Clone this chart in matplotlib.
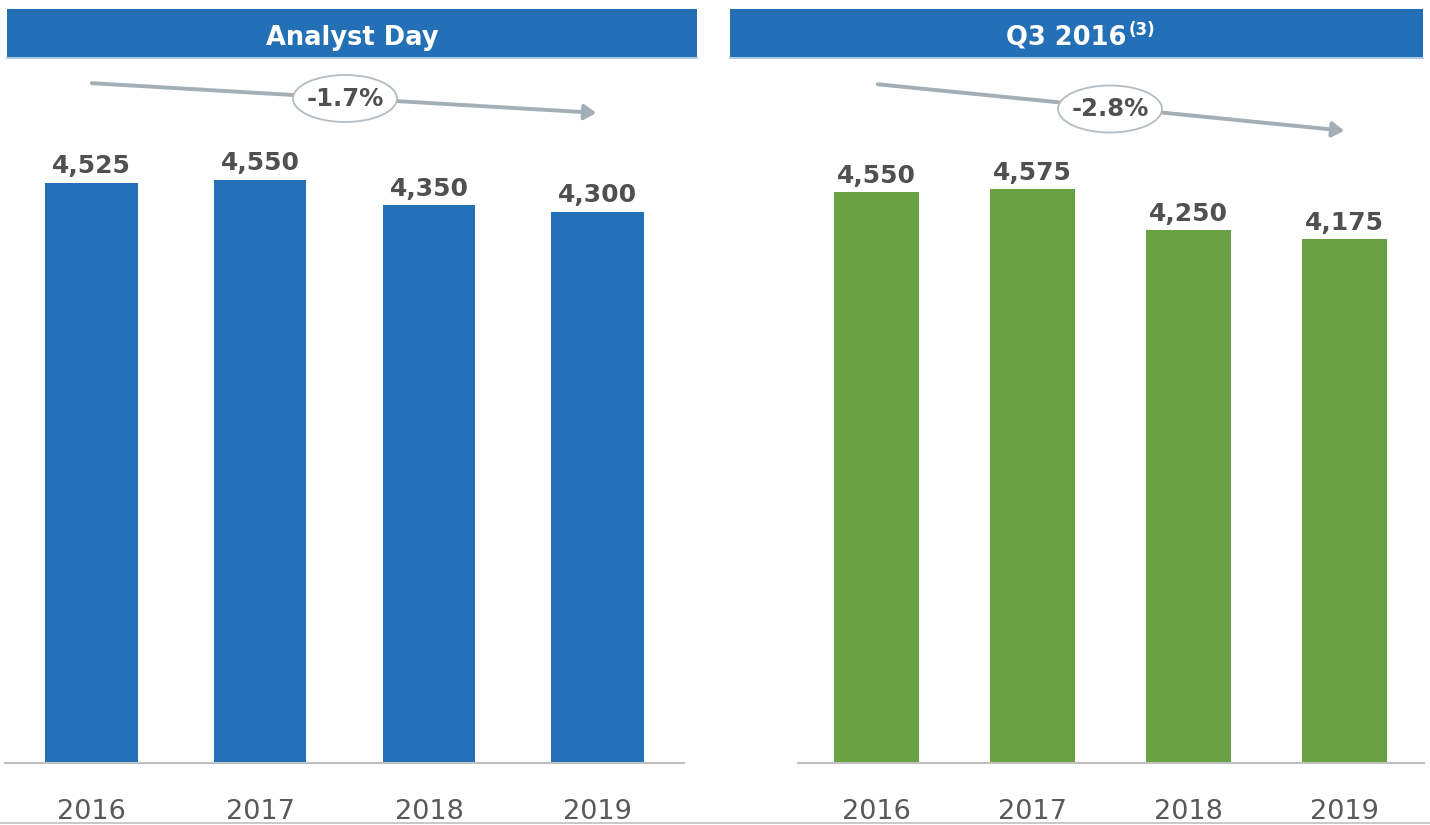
import matplotlib.pyplot as plt
from matplotlib.patches import Rectangle, Ellipse, FancyArrowPatch
from matplotlib.lines import Line2D

# data
years = ['2016', '2017', '2018', '2019']
analyst_day = [4525, 4550, 4350, 4300]
q3_2016 = [4550, 4575, 4250, 4175]
panel_titles = ['Analyst Day', 'Q3 2016']
title_note = '(3)'
cagr_labels = ['-1.7%', '-2.8%']

W, H = 1430, 825
BLUE = '#2471B7'
GREEN = '#6AA142'
HEADER = '#2470B6'
TXT = '#505050'
AXIS_GRAY = '#BFBFBF'
ARROW_GRAY = '#A3AEB5'


def fx(x):
    return x / W


def fy(y):
    return 1 - y / H


fig = plt.figure(figsize=(W / 100, H / 100), dpi=100)
fig.patch.set_facecolor('white')

panels = [
    # values, colour, axes left/right px, ylim top, xlim, bar width
    (analyst_day, BLUE, 5, 684, 4937, (-0.51, 3.51), 0.55),
    (q3_2016, GREEN, 798, 1424, 5048, (-0.50, 3.51), 0.545),
]

for values, color, x0, x1, ytop, xlim, bw in panels:
    ax = fig.add_axes([fx(x0), fy(762.5), (x1 - x0) / W, (762.5 - 130) / H])
    xs = range(len(years))
    bars = ax.bar(xs, values, width=bw, color=color, zorder=2)
    ax.set_xlim(*xlim)
    ax.set_ylim(0, ytop)
    for s in ['top', 'left', 'right']:
        ax.spines[s].set_visible(False)
    ax.spines['bottom'].set_color(AXIS_GRAY)
    ax.spines['bottom'].set_linewidth(1.5)
    ax.set_yticks([])
    ax.set_xticks(list(xs))
    ax.set_xticklabels(years, fontsize=19.5, color='#595959')
    ax.tick_params(axis='x', length=0, pad=26)
    for b, v in zip(bars, values):
        ax.annotate(f'{v:,}', (b.get_x() + b.get_width() / 2, v),
                    xytext=(0, 6.8), textcoords='offset points',
                    ha='center', va='baseline', fontsize=18,
                    fontweight='bold', color=TXT)

# header bars
for (hx0, hx1) in [(7, 697), (730, 1423)]:
    fig.add_artist(Rectangle((fx(hx0), fy(57)), (hx1 - hx0) / W, 48 / H,
                             transform=fig.transFigure, facecolor=HEADER,
                             edgecolor='none'))
    fig.add_artist(Line2D([fx(hx0), fx(hx1)], [fy(58), fy(58)],
                          transform=fig.transFigure, color='#9DBFE0', lw=1.2))

fig.text(fx(352), fy(45), panel_titles[0], ha='center', va='baseline',
         fontsize=18.5, fontweight='bold', color='white')
fig.text(fx(1127), fy(45), panel_titles[1], ha='right', va='baseline',
         fontsize=18.5, fontweight='bold', color='white')
fig.text(fx(1129), fy(35), title_note, ha='left', va='baseline',
         fontsize=12, fontweight='bold', color='white')

# trend arrows with ellipse labels
arrows = [((89, 83), (599, 113), (345, 98.5)),
          ((875, 84), (1347, 131), (1110, 109))]
for (start, end, center), label in zip(arrows, cagr_labels):
    fig.add_artist(FancyArrowPatch((fx(start[0]), fy(start[1])),
                                   (fx(end[0]), fy(end[1])),
                                   transform=fig.transFigure,
                                   arrowstyle='-|>,head_length=7,head_width=4.5',
                                   color=ARROW_GRAY, lw=2.8, zorder=3))
    fig.add_artist(Ellipse((fx(center[0]), fy(center[1])), 104 / W, 47 / H,
                           transform=fig.transFigure, facecolor='white',
                           edgecolor='#B4BCC2', lw=1.3, zorder=4))
    fig.text(fx(center[0]), fy(center[1]), label, ha='center', va='center',
             fontsize=17.5, fontweight='bold', color=TXT, zorder=5)

# thin rule at the bottom
fig.add_artist(Line2D([0, 1], [fy(823), fy(823)], transform=fig.transFigure,
                      color=AXIS_GRAY, lw=1.2))

fig.savefig('out.png', dpi=100)
